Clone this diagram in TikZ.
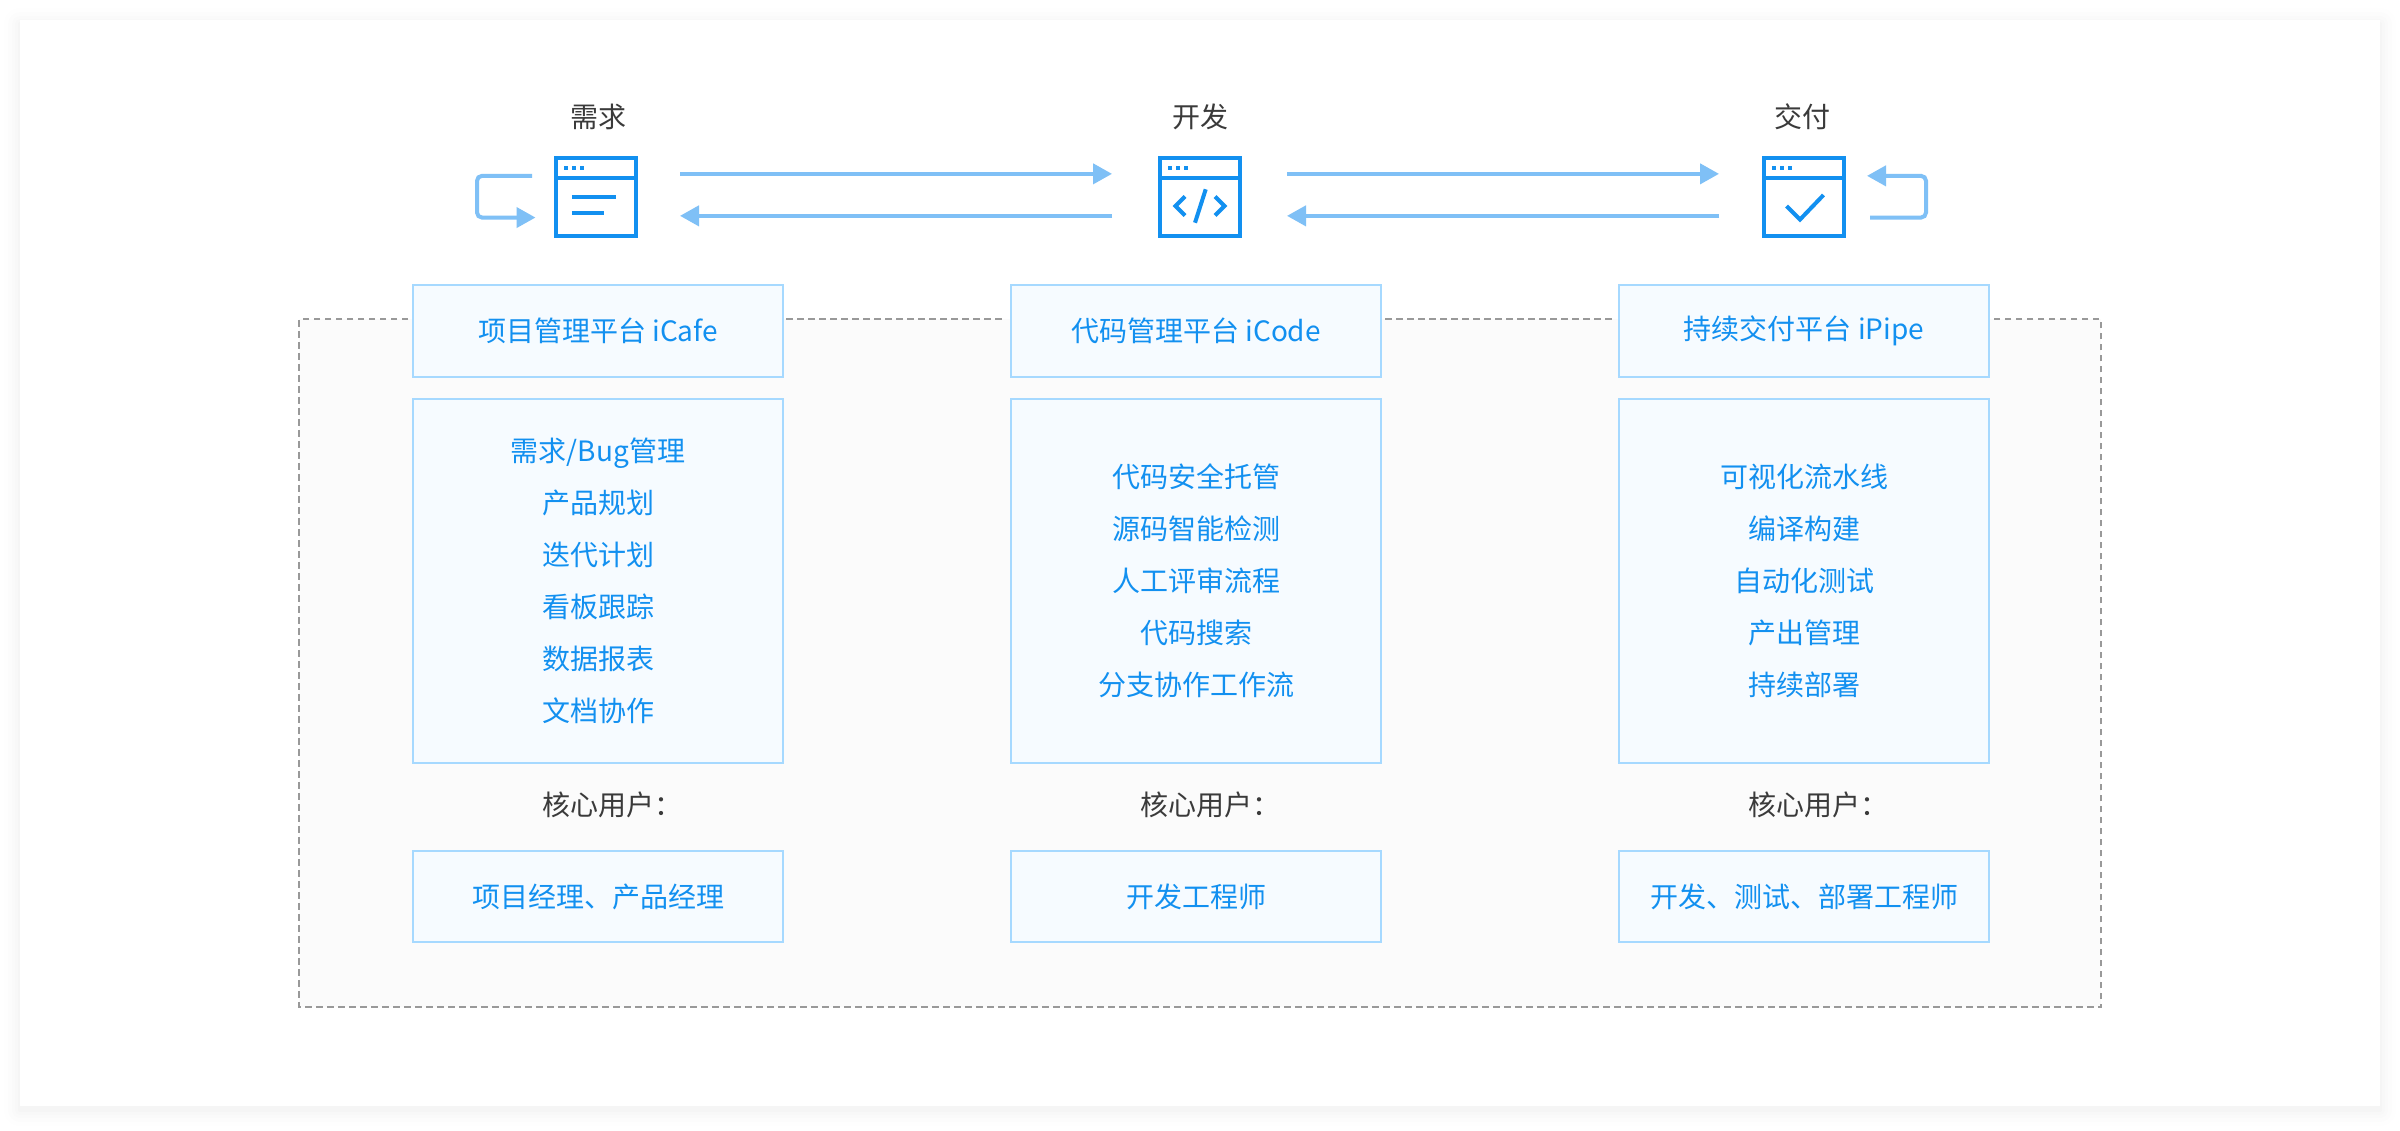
\documentclass[tikz,border=0pt]{standalone}
\usepackage{fontspec}
\setmainfont{Noto Sans CJK SC}
\usetikzlibrary{arrows.meta}
\definecolor{iconblue}{HTML}{1290F0}
\definecolor{flowblue}{HTML}{7FC0F6}
\definecolor{boxline}{HTML}{A6D9FF}
\definecolor{boxfill}{HTML}{F6FBFF}
\definecolor{darktext}{HTML}{3A3A3A}
\definecolor{zonefill}{HTML}{FBFBFB}
\definecolor{zoneline}{HTML}{999999}
\tikzset{
  stagebox/.style={draw=iconblue,line width=4pt,fill=white,minimum width=80pt,minimum height=77.7pt,inner sep=0pt,anchor=north west},
  cardbox/.style={draw=boxline,line width=2pt,fill=boxfill,minimum width=370pt,inner sep=0pt,anchor=north west,text=iconblue,align=center,font=\fontsize{28}{52}\selectfont},
  flow/.style={draw=flowblue,line width=4pt,-{Triangle[length=19pt,width=20pt]}},
  glyph/.style={draw=iconblue,line width=4pt},
  plain/.style={text=darktext,font=\fontsize{28}{34}\selectfont,inner sep=0pt},
  dashline/.style={draw=zoneline,line width=2pt,dash pattern=on 6.5pt off 4.5pt}
}
\newcommand{\stageicon}[3]{ % #1: name, #2: x-coordinate of left edge, #3: symbol
  \node[stagebox] (#1) at (#2,156) {};
  \begin{scope}[shift={(#2+2,158)}]
    \draw[glyph] (0,20) -- (80,20);
    \foreach \d in {8,16,24}
    {
      \fill[iconblue] (\d,8) rectangle ++(4,4);
    }
    #3
  \end{scope}
}
\begin{document}
\begin{tikzpicture}[x=1pt,y=-1pt]
\useasboundingbox (0,0) rectangle (2400,1130);

% Card with soft edge
\foreach \s/\o in {16/0.005,12/0.006,8/0.008,5/0.009,2/0.01}
{
  \fill[black,opacity=\o,rounded corners=\s] (20-\s,20-\s+4) rectangle (2380+\s,1106+\s+4);
}
\fill[white] (20,20) rectangle (2380,1106);

% Dashed zone behind the columns
\fill[zonefill] (299,319) rectangle (2101,1007);
\draw[dashline] (408,319) -- (299,319) -- (299,1007) -- (2101,1007) -- (2101,319) -- (1994,319);
\draw[dashline] (786,319) -- (1006,319);
\draw[dashline] (1385,319) -- (1614,319);

% Stage titles
\node[plain] (titleneed) at (598,116.5) {需求};
\node[plain] (titledev) at (1200,116.5) {开发};
\node[plain] (titleship) at (1802,116.5) {交付};

% Stage icons
\stageicon{need}{554}{
  \draw[glyph] (15.8,38.7) -- ++(44,0);
  \draw[glyph] (15.8,54.7) -- ++(31.7,0);
}
\stageicon{dev}{1158}{
  \draw[glyph] (25,38.5) -- (15.5,48) -- (25,57.5);
  \draw[glyph] (55,38.5) -- (64.5,48) -- (55,57.5);
  \draw[glyph] (45.7,31.3) -- (35,64.7);
}
\stageicon{ship}{1762}{
  \draw[glyph] (22.5,48) -- (36,61.5) -- (59.5,37);
}

% Arrows between the stages
\draw[flow] ([xshift=42pt,yshift=23pt]need.east) -- ([xshift=-46pt,yshift=23pt]dev.west);
\draw[flow] ([xshift=-46pt,yshift=-19pt]dev.west) -- ([xshift=42pt,yshift=-19pt]need.east);
\draw[flow] ([xshift=45pt,yshift=23pt]dev.east) -- ([xshift=-43pt,yshift=23pt]ship.west);
\draw[flow] ([xshift=-43pt,yshift=-19pt]ship.west) -- ([xshift=45pt,yshift=-19pt]dev.east);

% Loops
\draw[flow,rounded corners=5pt] ([xshift=-22pt,yshift=21pt]need.west) -- ([xshift=-77pt,yshift=21pt]need.west) -- ([xshift=-77pt,yshift=-20.7pt]need.west) -- ([xshift=-18.5pt,yshift=-20.7pt]need.west);
\draw[flow,rounded corners=5pt] ([xshift=24pt,yshift=-20.7pt]ship.east) -- ([xshift=80pt,yshift=-20.7pt]ship.east) -- ([xshift=80pt,yshift=21pt]ship.east) -- ([xshift=21pt,yshift=21pt]ship.east);

% Column boxes: name/left/header/body lines/user text
\foreach \n/\x/\head/\body/\user in {
  a/412/项目管理平台 iCafe/{需求/Bug管理\\产品规划\\迭代计划\\看板跟踪\\数据报表\\文档协作}/项目经理、产品经理,
  b/1010/代码管理平台 iCode/{代码安全托管\\源码智能检测\\人工评审流程\\代码搜索\\分支协作工作流}/开发工程师,
  c/1618/持续交付平台 iPipe/{可视化流水线\\编译构建\\自动化测试\\产出管理\\持续部署}/开发、测试、部署工程师}
{
  \node[cardbox,minimum height=91.5pt] (head\n) at (\x,284) {\head};
  \node[cardbox,minimum height=363.5pt] (body\n) at (\x,398) {\raisebox{-2.5pt}{\parbox{360pt}{\centering\body}}};
  \node[plain] (core\n) at ([yshift=-41.5pt]body\n.south) {核心用户\rlap{：}};
  \node[cardbox,minimum height=91pt] (user\n) at (\x,850) {\raisebox{1pt}{\user}};
}

\end{tikzpicture}
\end{document}
